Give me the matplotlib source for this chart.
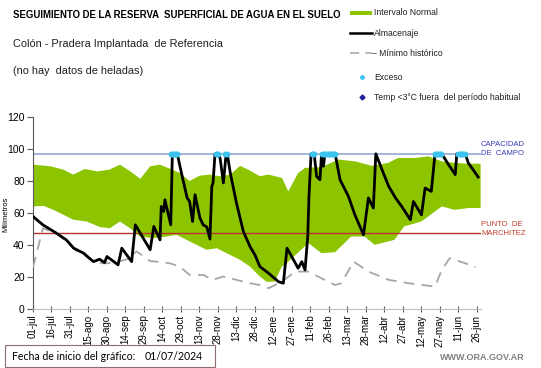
import numpy as np
import matplotlib
matplotlib.use("Agg")
import matplotlib.pyplot as plt
from matplotlib.patches import Rectangle
from matplotlib.lines import Line2D

plt.rcParams['font.family'] = ['Liberation Sans', 'DejaVu Sans']

# Datos (dias desde el 01/07/2024, milimetros)
alm_dias = [0, 8, 19, 27, 33, 41, 49, 54, 58, 60, 69, 72, 80, 83, 95, 98, 103, 104, 106, 107,
            111.7, 113, 117, 118, 121, 125, 127, 129.4, 131.4, 135.4, 138, 141, 143.5, 145, 146,
            147.6, 150, 151.7, 154.4, 156.6, 157.5, 160, 165, 170.6, 176, 180, 184, 191, 199, 203,
            206, 215, 218, 220.6, 222.8, 223.8, 225.5, 228, 230, 232.7, 234, 235.5, 236.8, 245,
            249, 255.8, 261, 268, 272, 276, 278, 283, 288.5, 294, 299, 306, 308.5, 315, 318, 323,
            326, 331.5, 337, 342.4, 343.7, 350.5, 353, 361]
alm_vals = [57.8, 52.6, 47.4, 43.2, 38, 34.9, 29.6, 31.1, 29, 32.8, 27.6, 38, 29.6, 52.6, 37, 51.6, 43.2, 64.1, 61, 68.3,
            52.6, 97, 97, 93.4, 82.9, 69.4, 67.2, 54.7, 71.4, 56.8, 52.6, 51.2, 43.7, 76.6, 78.8,
            97, 97, 94.4, 78.8, 97, 97, 85, 66.2, 48.4, 39, 33.8, 26.5, 22.4, 17.1, 16.1,
            38, 25.5, 29.6, 24.4, 45.3, 70.4, 97, 97, 82.9, 80.8, 97, 89.2, 97, 97,
            80.8, 70.4, 58.9, 46.4, 69.4, 63.1, 97, 87.1, 76.6, 69.4, 64.1, 55.8, 67.2, 58.9, 75.6, 73.5,
            97, 97, 90.2, 84, 97, 97, 91.3, 82.5]

min_dias = [0, 8, 20, 28, 34, 42, 50, 58, 66, 76, 84, 95, 111, 119, 127, 138, 146, 154, 165, 176,
            184, 191, 202, 212.5, 223, 234, 245, 250, 260, 272, 288.5, 304.6, 326, 331.5, 338, 350.5, 359]
min_vals = [26, 50.5, 46.5, 42, 37, 33.5, 29, 28.5, 29, 31, 36, 30, 28.6, 26.5, 21.3, 21.3, 18.2, 20.3, 18.2, 16.1,
            15, 13, 17.1, 23.4, 23.4, 19.2, 15, 16.1, 29.6, 23.4, 18.2, 16.1, 14, 24.4, 31.8, 28.6, 26.1]

sup_dias = [0, 14, 24.6, 32.7, 42, 52, 62, 70.5, 79, 87, 95, 103, 111, 119, 127, 135, 143.5, 152, 160,
            168, 176, 184, 191, 202, 207, 215, 220.6, 234, 247.6, 261, 274.7, 288, 296, 310, 320.6,
            331.5, 342, 353, 363]
sup_vals = [90.2, 89.2, 87.1, 84, 87.5, 86, 87.1, 90.2, 86, 81.3, 89.2, 90.2, 87.7, 85, 80, 83.3, 84, 82.9, 84,
            89.5, 86.5, 83, 84, 81.9, 73.5, 85, 88.2, 88.7, 93.4, 92.3, 89.5, 91.3, 94.4, 94.4, 95.4,
            92.3, 91.3, 90.8, 90.8]

inf_dias = [0, 8.4, 16.5, 24.6, 32.7, 43.5, 54.3, 62.4, 70.5, 78.7, 86.8, 97.6, 108.4, 116.5, 124.6,
            132.7, 140.8, 149, 159.8, 168, 176, 184, 189.5, 196, 201.7, 205.7, 212.5, 223.3, 234, 245,
            258, 269, 277, 293, 301, 315, 331.5, 342, 353, 363]
inf_vals = [64.1, 64.5, 62, 58.9, 55.8, 54.7, 51.2, 50.5, 54.7, 50.5, 45.3, 44.3, 45.3, 46.4, 43.2,
            40.1, 37, 38, 33.8, 30.7, 26.5, 20.3, 17, 17.1, 26.5, 28.6, 33.5, 41.2, 34.9, 35.5,
            45.3, 45.3, 40.1, 43.2, 51.6, 54.7, 64.1, 62, 63.1, 63.1]

exceso_dias = [112, 113, 114, 115, 116, 117, 148, 149, 150, 156, 157, 226, 227, 228,
               234, 236, 237, 238, 239, 240, 241, 242, 243, 244, 245,
               326, 327, 328, 329, 330, 331, 345, 346, 347, 348, 349, 350]

capacidad = 97
marchitez = 47.5

tick_dias = list(range(0, 361, 15))
tick_labels = ['01-jul', '16-jul', '31-jul', '15-ago', '30-ago', '14-sep', '29-sep', '14-oct',
               '29-oct', '13-nov', '28-nov', '13-dic', '28-dic', '12-ene', '27-ene', '11-feb',
               '26-feb', '13-mar', '28-mar', '12-abr', '27-abr', '12-may', '27-may', '11-jun', '26-jun']

W, H = 541, 368
fig = plt.figure(figsize=(W / 100, H / 100), dpi=100)
fig.patch.set_facecolor('white')

def fx(x):
    return x / W

def fy(y):
    return 1 - y / H

ax = fig.add_axes([fx(33), fy(309), (481 - 33) / W, (309 - 117) / H])

verde = '#8DC400'
ax.fill(sup_dias + inf_dias[::-1], sup_vals + inf_vals[::-1], color=verde, lw=0, zorder=1)
ax.axhline(capacidad, color='#93A9D3', lw=1.2, zorder=2)
ax.axhline(marchitez, color='#B8312F', lw=1.0, zorder=2)
ax.plot(min_dias, min_vals, color='#A6A6A6', lw=1.3, dashes=(6, 4), zorder=3)
ax.plot(alm_dias, alm_vals, color='black', lw=2.0, zorder=4)
ax.plot(exceso_dias, [capacidad] * len(exceso_dias), linestyle='', marker='o',
        markersize=3.2, color='#3EC4EC', zorder=5)

ax.set_xlim(0, 363.3)
ax.set_ylim(0, 120)
ax.set_yticks(range(0, 121, 20))
ax.set_xticks(tick_dias)
ax.set_xticklabels(tick_labels, rotation=90, fontsize=7)
ax.tick_params(axis='y', labelsize=7.5, length=4, color='#595959', direction='out', pad=2)
ax.tick_params(axis='x', length=4, color='#595959', direction='inout', pad=2)
for s in ['top', 'right']:
    ax.spines[s].set_visible(False)
ax.spines['left'].set_color('#595959')
ax.spines['bottom'].set_color('#BFBFBF')
fig.text(fx(6), fy(214), 'Milímetros', fontsize=5.5, rotation=90, va='center', ha='center')

# Etiquetas a la derecha
fig.text(fx(481), fy(149), 'CAPACIDAD\nDE  CAMPO', fontsize=5.5, color='#3B3BB5',
         va='center', ha='left', linespacing=1.3)
fig.text(fx(481), fy(229), 'PUNTO  DE\nMARCHITEZ', fontsize=5.5, color='#C0392B',
         va='center', ha='left', linespacing=1.3)

# Titulos
fig.text(fx(13), fy(15), 'SEGUIMIENTO DE LA RESERVA  SUPERFICIAL DE AGUA EN EL SUELO',
         fontsize=6.9, fontweight='bold', va='center', ha='left')
fig.text(fx(13), fy(44), 'Colón - Pradera Implantada  de Referencia', fontsize=7.9,
         va='center', ha='left', color='#202020')
fig.text(fx(13), fy(71), '(no hay  datos de heladas)', fontsize=7.9,
         va='center', ha='left', color='#202020')

# Leyenda
fig.add_artist(Rectangle((fx(350), fy(15)), 22 / W, 4 / H, transform=fig.transFigure,
                         color=verde, lw=0))
fig.add_artist(Line2D([fx(350), fx(372)], [fy(33), fy(33)], transform=fig.transFigure,
                      color='black', lw=1.8))
fig.add_artist(Line2D([fx(350), fx(372)], [fy(53), fy(53)], transform=fig.transFigure,
                      color='#A6A6A6', lw=1.1, dashes=(6, 4)))
fig.add_artist(Line2D([fx(362)], [fy(77)], transform=fig.transFigure, marker='o',
                      markersize=2.5, color='#3EC4EC', linestyle=''))
fig.add_artist(Line2D([fx(362)], [fy(97)], transform=fig.transFigure, marker='D',
                      markersize=2.5, color='#1F1F9A', linestyle=''))
leyenda = ['Intervalo Normal', 'Almacenaje', '– Mínimo histórico', 'Exceso',
           'Temp <3°C fuera  del período habitual']
for texto, yy, xx in zip(leyenda, [12.5, 33, 53, 77, 97], [374, 374, 372, 374, 374]):
    fig.text(fx(xx), fy(yy), texto, fontsize=6.2, va='center', ha='left', color='#202020')

# Pie
fig.add_artist(Rectangle((fx(5), fy(367)), 210 / W, 22 / H, transform=fig.transFigure,
                         fill=False, edgecolor='#8C6E6E', lw=0.8))
fig.text(fx(12), fy(356), 'Fecha de inicio del gráfico:', fontsize=7.6, family='Lato',
         va='center', ha='left')
fig.text(fx(145), fy(356), '01/07/2024', fontsize=7.6, family='Lato', va='center', ha='left')
fig.text(fx(525), fy(357), 'WWW.ORA.GOV.AR', fontsize=6.5, fontweight='bold', color='#7F7F7F',
         va='center', ha='right')

fig.savefig('out.png', dpi=100)
